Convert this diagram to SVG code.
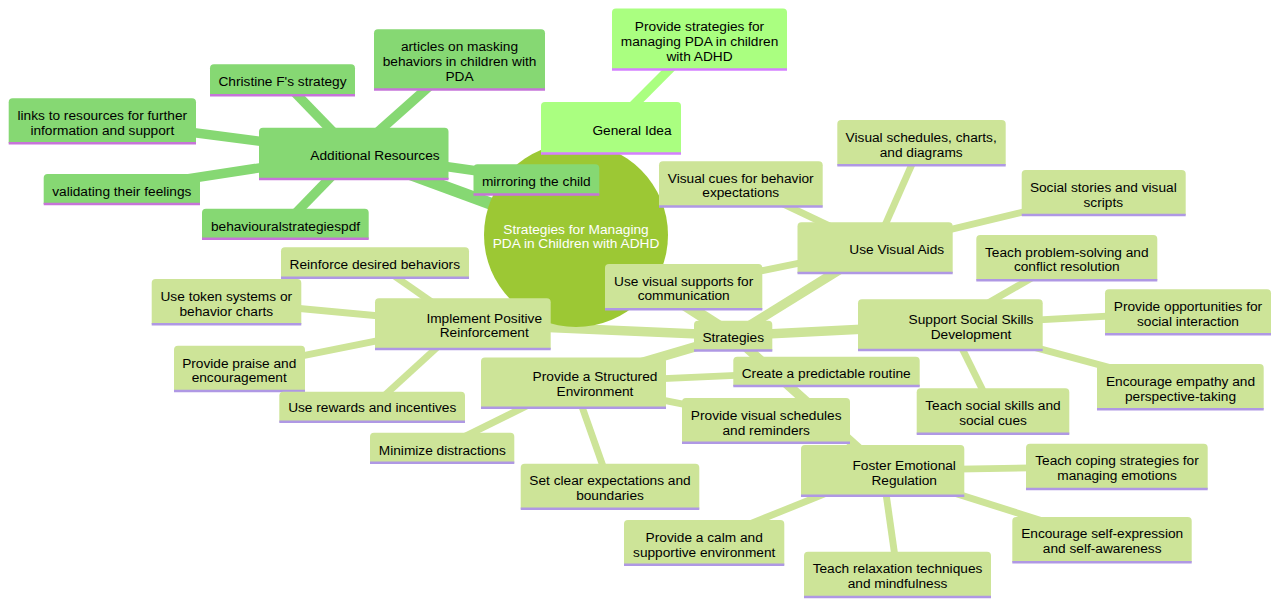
<svg xmlns="http://www.w3.org/2000/svg" width="1280" height="606" viewBox="0 0 1280 606">
<style>
text{font-family:"Liberation Sans",Arial,sans-serif;font-size:13.7px;text-anchor:middle;fill:#000}
.e{fill:none;stroke-linecap:butt}
.egi{stroke:#aaff80}.ear{stroke:#86d873}.est{stroke:#cde498}
.d0{stroke-width:12}.d1{stroke-width:9.5}.d2{stroke-width:6.9}
.gi path{fill:#aaff80}.gi line{stroke:#d580ff;stroke-width:2.6}
.ar path{fill:#86d873}.ar line{stroke:#c674d8;stroke-width:2.6}
.st path{fill:#cde498}.st line{stroke:#af98e4;stroke-width:2.6}
.root circle{fill:#9cc834}.root text{fill:#ffffff}
</style>
<rect width="1280" height="606" fill="#ffffff"/>
<g id="connectors">
<line class="e egi d0" x1="576" y1="235" x2="611" y2="127.8"/>
<line class="e egi d1" x1="611" y1="127.8" x2="699.5" y2="39"/>
<line class="e ear d0" x1="576" y1="235" x2="353.8" y2="153.4"/>
<line class="e ear d1" x1="353.8" y1="153.4" x2="282.5" y2="79.8"/>
<line class="e ear d1" x1="353.8" y1="153.4" x2="459.5" y2="59.4"/>
<line class="e ear d1" x1="353.8" y1="153.4" x2="102.4" y2="120.8"/>
<line class="e ear d1" x1="353.8" y1="153.4" x2="121.9" y2="189"/>
<line class="e ear d1" x1="353.8" y1="153.4" x2="285.4" y2="223.7"/>
<line class="e ear d1" x1="353.8" y1="153.4" x2="536.4" y2="179.4"/>
<line class="e est d0" x1="576" y1="235" x2="733.2" y2="335.6"/>
<line class="e est d1" x1="733.2" y1="335.6" x2="875.1" y2="247.7"/>
<line class="e est d1" x1="733.2" y1="335.6" x2="950.4" y2="324.7"/>
<line class="e est d1" x1="733.2" y1="335.6" x2="462.9" y2="323.7"/>
<line class="e est d1" x1="733.2" y1="335.6" x2="573.5" y2="382.6"/>
<line class="e est d1" x1="733.2" y1="335.6" x2="882.7" y2="470.4"/>
<line class="e est d2" x1="875.1" y1="247.7" x2="921.5" y2="142.7"/>
<line class="e est d2" x1="875.1" y1="247.7" x2="1103.7" y2="192.5"/>
<line class="e est d2" x1="875.1" y1="247.7" x2="740.9" y2="183.9"/>
<line class="e est d2" x1="875.1" y1="247.7" x2="683.7" y2="286.7"/>
<line class="e est d2" x1="950.4" y1="324.7" x2="1066.8" y2="257.7"/>
<line class="e est d2" x1="950.4" y1="324.7" x2="1188" y2="311.8"/>
<line class="e est d2" x1="950.4" y1="324.7" x2="1180.4" y2="386.7"/>
<line class="e est d2" x1="950.4" y1="324.7" x2="993" y2="411"/>
<line class="e est d2" x1="462.9" y1="323.7" x2="375" y2="262.5"/>
<line class="e est d2" x1="462.9" y1="323.7" x2="226.5" y2="301.7"/>
<line class="e est d2" x1="462.9" y1="323.7" x2="239.5" y2="368.4"/>
<line class="e est d2" x1="462.9" y1="323.7" x2="372.2" y2="406.7"/>
<line class="e est d2" x1="573.5" y1="382.6" x2="826.5" y2="371.4"/>
<line class="e est d2" x1="573.5" y1="382.6" x2="766" y2="420.4"/>
<line class="e est d2" x1="573.5" y1="382.6" x2="442.2" y2="447.7"/>
<line class="e est d2" x1="573.5" y1="382.6" x2="610" y2="486.2"/>
<line class="e est d2" x1="882.7" y1="470.4" x2="1116.9" y2="466.4"/>
<line class="e est d2" x1="882.7" y1="470.4" x2="1102" y2="539.7"/>
<line class="e est d2" x1="882.7" y1="470.4" x2="897.5" y2="574.4"/>
<line class="e est d2" x1="882.7" y1="470.4" x2="704.2" y2="542.4"/>
</g>
<g id="root" class="root"><circle cx="576" cy="235" r="92"/><text><tspan x="576" y="233.8">Strategies for Managing</tspan><tspan x="576" y="248">PDA in Children with ADHD</tspan></text></g>
<g id="general-idea" class="gi"><path d="M541,153.5 V106 Q541,102 545,102 H677 Q681,102 681,106 V153.5 Z"/><line x1="541" y1="153.5" x2="681" y2="153.5"/><text x="632" y="134.5">General Idea</text></g>
<g id="provide-strategies" class="gi"><path d="M612,69.5 V12.5 Q612,8.5 616,8.5 H783 Q787,8.5 787,12.5 V69.5 Z"/><line x1="612" y1="69.5" x2="787" y2="69.5"/><text><tspan x="699.5" y="30.5">Provide strategies for</tspan><tspan x="699.5" y="45.5">managing PDA in children</tspan><tspan x="699.5" y="60.5">with ADHD</tspan></text></g>
<g id="additional-resources" class="ar"><path d="M259,179 V131.7 Q259,127.7 263,127.7 H444.5 Q448.5,127.7 448.5,131.7 V179 Z"/><line x1="259" y1="179" x2="448.5" y2="179"/><text x="375" y="159.5">Additional Resources</text></g>
<g id="christine" class="ar"><path d="M210,95.3 V68.3 Q210,64.3 214,64.3 H351 Q355,64.3 355,68.3 V95.3 Z"/><line x1="210" y1="95.3" x2="355" y2="95.3"/><text x="282.5" y="85.5">Christine F's strategy</text></g>
<g id="articles" class="ar"><path d="M374,89.5 V33.3 Q374,29.3 378,29.3 H541 Q545,29.3 545,33.3 V89.5 Z"/><line x1="374" y1="89.5" x2="545" y2="89.5"/><text><tspan x="459.5" y="50.5">articles on masking</tspan><tspan x="459.5" y="65.5">behaviors in children with</tspan><tspan x="459.5" y="80.5">PDA</tspan></text></g>
<g id="links" class="ar"><path d="M8.7,143.3 V102.3 Q8.7,98.3 12.7,98.3 H192 Q196,98.3 196,102.3 V143.3 Z"/><line x1="8.7" y1="143.3" x2="196" y2="143.3"/><text><tspan x="102.3" y="119.5">links to resources for further</tspan><tspan x="102.3" y="134.5">information and support</tspan></text></g>
<g id="validating" class="ar"><path d="M43.7,204 V178 Q43.7,174 47.7,174 H196 Q200,174 200,178 V204 Z"/><line x1="43.7" y1="204" x2="200" y2="204"/><text x="121.8" y="195.5">validating their feelings</text></g>
<g id="behavioural" class="ar"><path d="M202,238.7 V212.7 Q202,208.7 206,208.7 H364.7 Q368.7,208.7 368.7,212.7 V238.7 Z"/><line x1="202" y1="238.7" x2="368.7" y2="238.7"/><text x="285.5" y="230.5">behaviouralstrategiespdf</text></g>
<g id="mirroring" class="ar"><path d="M473.5,194.5 V168.3 Q473.5,164.3 477.5,164.3 H595.3 Q599.3,164.3 599.3,168.3 V194.5 Z"/><line x1="473.5" y1="194.5" x2="599.3" y2="194.5"/><text x="536.3" y="185.5">mirroring the child</text></g>
<g id="strategies" class="st"><path d="M694,350.5 V324.7 Q694,320.7 698,320.7 H768.3 Q772.3,320.7 772.3,324.7 V350.5 Z"/><line x1="694" y1="350.5" x2="772.3" y2="350.5"/><text x="733.2" y="341.5">Strategies</text></g>
<g id="use-visual-aids" class="st"><path d="M797.5,273 V226.3 Q797.5,222.3 801.5,222.3 H948.7 Q952.7,222.3 952.7,226.3 V273 Z"/><line x1="797.5" y1="273" x2="952.7" y2="273"/><text x="896.7" y="253.5">Use Visual Aids</text></g>
<g id="visual-schedules-charts" class="st"><path d="M837.3,165.3 V124 Q837.3,120 841.3,120 H1001.7 Q1005.7,120 1005.7,124 V165.3 Z"/><line x1="837.3" y1="165.3" x2="1005.7" y2="165.3"/><text><tspan x="921.2" y="141.8">Visual schedules, charts,</tspan><tspan x="921.2" y="156.5">and diagrams</tspan></text></g>
<g id="social-stories" class="st"><path d="M1021.7,215 V174 Q1021.7,170 1025.7,170 H1181.7 Q1185.7,170 1185.7,174 V215 Z"/><line x1="1021.7" y1="215" x2="1185.7" y2="215"/><text><tspan x="1103.3" y="191.8">Social stories and visual</tspan><tspan x="1103.3" y="206.5">scripts</tspan></text></g>
<g id="visual-cues" class="st"><path d="M659,206.5 V165.3 Q659,161.3 663,161.3 H818.7 Q822.7,161.3 822.7,165.3 V206.5 Z"/><line x1="659" y1="206.5" x2="822.7" y2="206.5"/><text><tspan x="740.7" y="182.8">Visual cues for behavior</tspan><tspan x="740.7" y="197.2">expectations</tspan></text></g>
<g id="visual-supports" class="st"><path d="M605,309.3 V268 Q605,264 609,264 H758.3 Q762.3,264 762.3,268 V309.3 Z"/><line x1="605" y1="309.3" x2="762.3" y2="309.3"/><text><tspan x="683.7" y="285.5">Use visual supports for</tspan><tspan x="683.7" y="300.2">communication</tspan></text></g>
<g id="social-skills" class="st"><path d="M858,350 V303.3 Q858,299.3 862,299.3 H1038.7 Q1042.7,299.3 1042.7,303.3 V350 Z"/><line x1="858" y1="350" x2="1042.7" y2="350"/><text><tspan x="971" y="323.5">Support Social Skills</tspan><tspan x="971" y="338.5">Development</tspan></text></g>
<g id="problem-solving" class="st"><path d="M976.3,280.3 V239 Q976.3,235 980.3,235 H1153.3 Q1157.3,235 1157.3,239 V280.3 Z"/><line x1="976.3" y1="280.3" x2="1157.3" y2="280.3"/><text><tspan x="1066.8" y="256.5">Teach problem-solving and</tspan><tspan x="1066.8" y="271.2">conflict resolution</tspan></text></g>
<g id="opportunities" class="st"><path d="M1105,334.3 V293.3 Q1105,289.3 1109,289.3 H1267 Q1271,289.3 1271,293.3 V334.3 Z"/><line x1="1105" y1="334.3" x2="1271" y2="334.3"/><text><tspan x="1188" y="310.5">Provide opportunities for</tspan><tspan x="1188" y="325.5">social interaction</tspan></text></g>
<g id="empathy" class="st"><path d="M1097,409.3 V368 Q1097,364 1101,364 H1259.7 Q1263.7,364 1263.7,368 V409.3 Z"/><line x1="1097" y1="409.3" x2="1263.7" y2="409.3"/><text><tspan x="1180.5" y="385.5">Encourage empathy and</tspan><tspan x="1180.5" y="400.5">perspective-taking</tspan></text></g>
<g id="social-cues" class="st"><path d="M916.7,433.7 V392.3 Q916.7,388.3 920.7,388.3 H1065.3 Q1069.3,388.3 1069.3,392.3 V433.7 Z"/><line x1="916.7" y1="433.7" x2="1069.3" y2="433.7"/><text><tspan x="993" y="409.5">Teach social skills and</tspan><tspan x="993" y="424.5">social cues</tspan></text></g>
<g id="positive-reinforcement" class="st"><path d="M375,349 V302.3 Q375,298.3 379,298.3 H546.7 Q550.7,298.3 550.7,302.3 V349 Z"/><line x1="375" y1="349" x2="550.7" y2="349"/><text><tspan x="484.2" y="322.8">Implement Positive</tspan><tspan x="484.2" y="337.2">Reinforcement</tspan></text></g>
<g id="reinforce-desired" class="st"><path d="M281,277.7 V251.3 Q281,247.3 285,247.3 H465 Q469,247.3 469,251.3 V277.7 Z"/><line x1="281" y1="277.7" x2="469" y2="277.7"/><text x="374.8" y="268.5">Reinforce desired behaviors</text></g>
<g id="token-systems" class="st"><path d="M151.7,324.3 V283 Q151.7,279 155.7,279 H297.3 Q301.3,279 301.3,283 V324.3 Z"/><line x1="151.7" y1="324.3" x2="301.3" y2="324.3"/><text><tspan x="226.3" y="300.5">Use token systems or</tspan><tspan x="226.3" y="315.5">behavior charts</tspan></text></g>
<g id="praise" class="st"><path d="M174,391 V349.7 Q174,345.7 178,345.7 H301 Q305,345.7 305,349.7 V391 Z"/><line x1="174" y1="391" x2="305" y2="391"/><text><tspan x="239.2" y="367.8">Provide praise and</tspan><tspan x="239.2" y="382.2">encouragement</tspan></text></g>
<g id="rewards" class="st"><path d="M279.3,421.7 V395.7 Q279.3,391.7 283.3,391.7 H461 Q465,391.7 465,395.7 V421.7 Z"/><line x1="279.3" y1="421.7" x2="465" y2="421.7"/><text x="372.2" y="412.2">Use rewards and incentives</text></g>
<g id="structured-environment" class="st"><path d="M481,407.7 V361.5 Q481,357.5 485,357.5 H662 Q666,357.5 666,361.5 V407.7 Z"/><line x1="481" y1="407.7" x2="666" y2="407.7"/><text><tspan x="595" y="381.2">Provide a Structured</tspan><tspan x="595" y="396.2">Environment</tspan></text></g>
<g id="predictable-routine" class="st"><path d="M733.3,386 V360.7 Q733.3,356.7 737.3,356.7 H915.7 Q919.7,356.7 919.7,360.7 V386 Z"/><line x1="733.3" y1="386" x2="919.7" y2="386"/><text x="826.2" y="377.5">Create a predictable routine</text></g>
<g id="visual-schedules-reminders" class="st"><path d="M682,442.7 V402 Q682,398 686,398 H846 Q850,398 850,402 V442.7 Z"/><line x1="682" y1="442.7" x2="850" y2="442.7"/><text><tspan x="766.2" y="419.5">Provide visual schedules</tspan><tspan x="766.2" y="434.5">and reminders</tspan></text></g>
<g id="minimize-distractions" class="st"><path d="M370,462.7 V436.7 Q370,432.7 374,432.7 H510.3 Q514.3,432.7 514.3,436.7 V462.7 Z"/><line x1="370" y1="462.7" x2="514.3" y2="462.7"/><text x="442.3" y="454.5">Minimize distractions</text></g>
<g id="clear-expectations" class="st"><path d="M520.7,508.7 V467.7 Q520.7,463.7 524.7,463.7 H695.3 Q699.3,463.7 699.3,467.7 V508.7 Z"/><line x1="520.7" y1="508.7" x2="699.3" y2="508.7"/><text><tspan x="610" y="484.5">Set clear expectations and</tspan><tspan x="610" y="500">boundaries</tspan></text></g>
<g id="emotional-regulation" class="st"><path d="M801,495.7 V449 Q801,445 805,445 H960.3 Q964.3,445 964.3,449 V495.7 Z"/><line x1="801" y1="495.7" x2="964.3" y2="495.7"/><text><tspan x="904.2" y="469.5">Foster Emotional</tspan><tspan x="904.2" y="484.5">Regulation</tspan></text></g>
<g id="coping-strategies" class="st"><path d="M1026,489 V447.7 Q1026,443.7 1030,443.7 H1203.7 Q1207.7,443.7 1207.7,447.7 V489 Z"/><line x1="1026" y1="489" x2="1207.7" y2="489"/><text><tspan x="1117" y="464.5">Teach coping strategies for</tspan><tspan x="1117" y="479.5">managing emotions</tspan></text></g>
<g id="self-expression" class="st"><path d="M1012.3,562.3 V521 Q1012.3,517 1016.3,517 H1187.7 Q1191.7,517 1191.7,521 V562.3 Z"/><line x1="1012.3" y1="562.3" x2="1191.7" y2="562.3"/><text><tspan x="1102.2" y="537.5">Encourage self-expression</tspan><tspan x="1102.2" y="553">and self-awareness</tspan></text></g>
<g id="relaxation" class="st"><path d="M804,597 V555.7 Q804,551.7 808,551.7 H987 Q991,551.7 991,555.7 V597 Z"/><line x1="804" y1="597" x2="991" y2="597"/><text><tspan x="897.5" y="572.5">Teach relaxation techniques</tspan><tspan x="897.5" y="588">and mindfulness</tspan></text></g>
<g id="calm-environment" class="st"><path d="M624,564.7 V524 Q624,520 628,520 H780.3 Q784.3,520 784.3,524 V564.7 Z"/><line x1="624" y1="564.7" x2="784.3" y2="564.7"/><text><tspan x="704.2" y="541.5">Provide a calm and</tspan><tspan x="704.2" y="556.5">supportive environment</tspan></text></g>
</svg>
